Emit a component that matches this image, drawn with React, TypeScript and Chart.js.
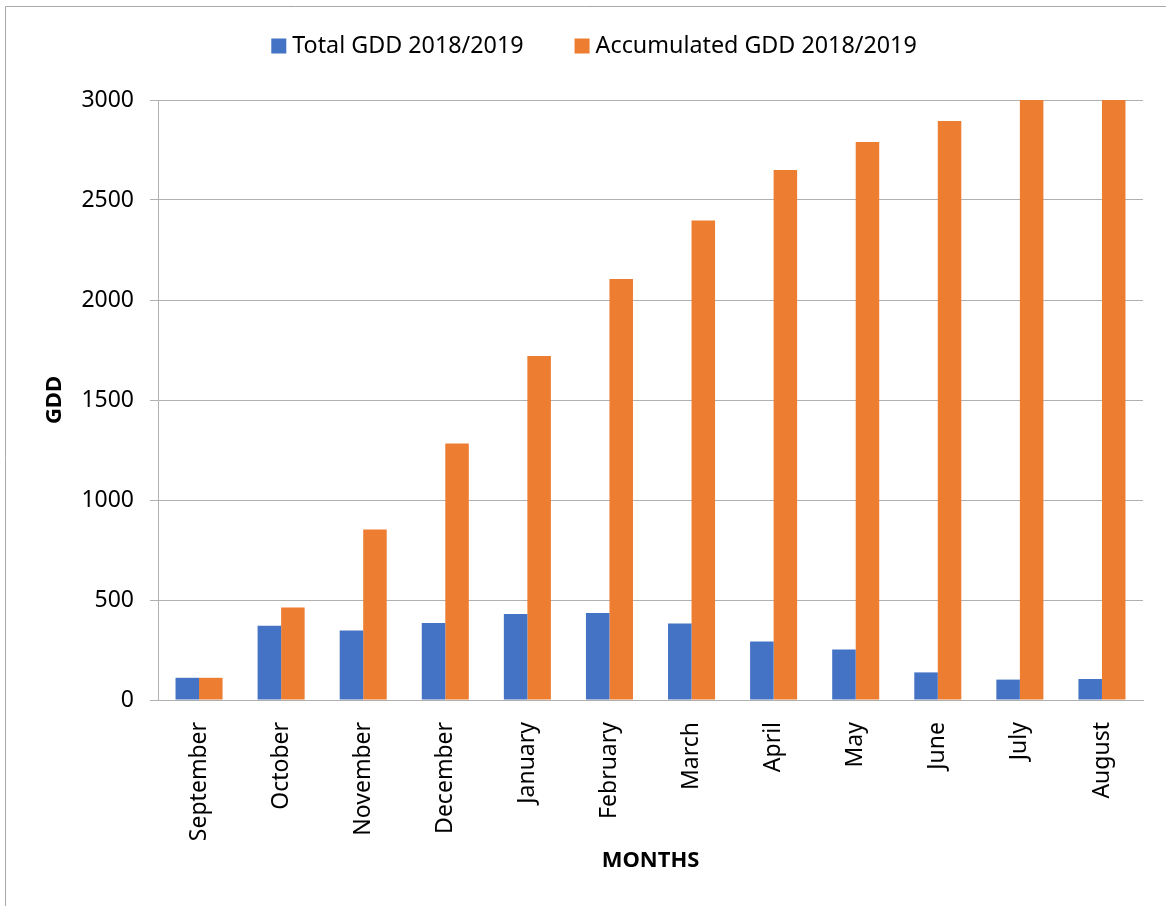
import { useEffect, useRef } from "react";
import { Chart, registerables } from "chart.js";

Chart.register(...registerables);

// Monthly growing degree days for the 2018/2019 season
const months = [
  "September",
  "October",
  "November",
  "December",
  "January",
  "February",
  "March",
  "April",
  "May",
  "June",
  "July",
  "August",
];
const totalGdd = [111, 371, 347, 385, 430, 435, 382, 292, 252, 138, 102, 105];
const accumulatedGdd = [111, 463, 852, 1283, 1720, 2105, 2397, 2650, 2790, 2895, 3000, 3000];

const seriesLabels = ["Total GDD 2018/2019", "Accumulated GDD 2018/2019"];
const seriesColors = ["#4472C4", "#ED7D31"];

const yMin = 0;
const yMax = 3000;
const yStep = 500;

const xTitle = "MONTHS";
const yTitle = "GDD";

const FONT = "'Noto Sans', 'Open Sans', sans-serif";
const TEXT = "#000000";
const GRID = "#b0b0b0";
const FRAME = "#a8a8a8";

const WIDTH = 1166;
const HEIGHT = 906;

// Thin outer frame of the chart object
const framePlugin = {
  id: "frame",
  beforeDraw(chart: any) {
    const ctx = chart.ctx;
    ctx.save();
    ctx.fillStyle = "#ffffff";
    ctx.fillRect(0, 0, chart.width, chart.height);
    ctx.strokeStyle = FRAME;
    ctx.lineWidth = 1;
    ctx.beginPath();
    ctx.moveTo(5.5, chart.height);
    ctx.lineTo(5.5, 6.5);
    ctx.lineTo(chart.width, 6.5);
    ctx.stroke();
    ctx.restore();
  },
};

// Legend row above the plot, built from the datasets
const legendPlugin = {
  id: "topLegend",
  afterDraw(chart: any) {
    const ctx = chart.ctx;
    ctx.save();
    ctx.font = `23.3px ${FONT}`;
    ctx.textBaseline = "middle";
    ctx.textAlign = "left";
    const box = 15;
    const gap = 6;
    const spacing = 51;
    const items = chart.data.datasets.map((ds: any) => ({
      label: ds.label as string,
      color: ds.backgroundColor as string,
      w: ctx.measureText(ds.label).width,
    }));
    const total =
      items.reduce((s: number, it: any) => s + box + gap + it.w, 0) +
      spacing * (items.length - 1);
    let x = 594 - total / 2;
    const y = 46;
    items.forEach((it: any) => {
      ctx.fillStyle = it.color;
      ctx.fillRect(x, y - box / 2, box, box);
      x += box + gap;
      ctx.fillStyle = TEXT;
      ctx.fillText(it.label, x, y);
      x += it.w + spacing;
    });
    ctx.restore();
  },
};

function GddChart() {
  const canvasRef = useRef<HTMLCanvasElement | null>(null);

  useEffect(() => {
    const canvas = canvasRef.current;
    if (!canvas) return;
    const chart = new Chart(canvas, {
      type: "bar",
      data: {
        labels: months,
        datasets: [
          {
            label: seriesLabels[0],
            data: totalGdd,
            backgroundColor: seriesColors[0],
            borderWidth: 0,
          },
          {
            label: seriesLabels[1],
            data: accumulatedGdd,
            backgroundColor: seriesColors[1],
            borderWidth: 0,
          },
        ],
      },
      options: {
        responsive: false,
        animation: false,
        devicePixelRatio: 1,
        layout: {
          padding: { top: 100, left: 0, right: 23, bottom: 0 },
        },
        datasets: {
          bar: {
            categoryPercentage: 0.573,
            barPercentage: 1.0,
          },
        },
        plugins: {
          legend: { display: false },
          tooltip: { enabled: false },
        },
        scales: {
          x: {
            grid: { display: false, drawTicks: false },
            border: { display: true, color: GRID, width: 1 },
            ticks: {
              color: TEXT,
              font: { family: FONT, size: 23 },
              minRotation: 90,
              maxRotation: 90,
              padding: 22,
              autoSkip: false,
            },
            title: {
              display: true,
              text: xTitle,
              color: TEXT,
              font: { family: FONT, size: 22, weight: "bold" },
              padding: { top: 0, bottom: 32 },
            },
            afterFit(scale: any) {
              scale.height = 206;
            },
          },
          y: {
            min: yMin,
            max: yMax,
            grid: {
              color: GRID,
              lineWidth: 1,
              drawTicks: true,
              tickLength: 8,
            },
            border: { display: true, color: GRID, width: 1 },
            ticks: {
              stepSize: yStep,
              color: TEXT,
              font: { family: FONT, size: 23 },
              padding: 16,
              callback: (value: any) => String(value),
            },
            title: {
              display: true,
              text: yTitle,
              color: TEXT,
              font: { family: FONT, size: 22, weight: "bold" },
              padding: { top: 42, bottom: 0 },
            },
            afterFit(scale: any) {
              scale.width = 158;
            },
          },
        },
      },
      plugins: [framePlugin, legendPlugin],
    });
    return () => chart.destroy();
  }, []);

  return (
    <canvas
      ref={canvasRef}
      width={WIDTH}
      height={HEIGHT}
      style={{ display: "block", width: WIDTH, height: HEIGHT }}
    />
  );
}

export default function App() {
  return (
    <div
      style={{
        position: "fixed",
        left: 0,
        top: 0,
        width: WIDTH,
        height: HEIGHT,
        background: "#ffffff",
      }}
    >
      <GddChart />
    </div>
  );
}
